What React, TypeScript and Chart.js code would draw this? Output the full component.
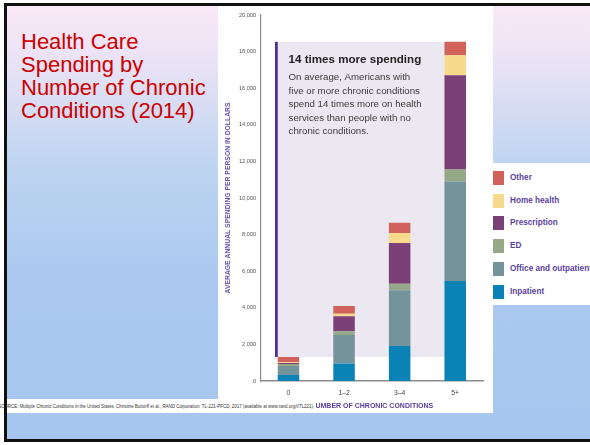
import React, { useEffect, useRef } from "react";
import { Chart, registerables } from "chart.js";

Chart.register(...registerables);

// Average annual spending per person (USD), by number of chronic conditions, 2014
const categories = ["0", "1–2", "3–4", "5+"];
const inpatient = [330, 960, 1910, 5470];
const officeOutpatient = [490, 1550, 3050, 5430];
const ed = [110, 210, 360, 650];
const prescription = [50, 820, 2220, 5160];
const homeHealth = [40, 130, 540, 1090];
const other = [290, 430, 570, 730];

// stacking order, bottom to top
const seriesNames = ["Inpatient", "Office and outpatient", "ED", "Prescription", "Home health", "Other"];
const seriesValues = [inpatient, officeOutpatient, ed, prescription, homeHealth, other];
const seriesColors = ["#0b82b5", "#75939b", "#95a887", "#7b4176", "#f8da8d", "#d0625b"];

const yMin = 0;
const yMax = 20000;
const yStep = 2000;

const calloutTitle = "14 times more spending";
const calloutLines = [
  "On average, Americans with",
  "five or more chronic conditions",
  "spend 14 times more on health",
  "services than people with no",
  "chronic conditions.",
];

const slideTitle = ["Health Care", "Spending by", "Number of Chronic", "Conditions (2014)"];
const sourceNote =
  "SOURCE: Multiple Chronic Conditions in the United States, Christine Buttorff et al., RAND Corporation, TL-221-PFCD, 2017 (available at www.rand.org/t/TL221).";

const SANS = '"Liberation Sans", Arial, Helvetica, sans-serif';
const PURPLE = "#5b3fa0";

// Shaded callout panel spanning from the "0" total up to the "5+" total
const calloutPlugin = {
  id: "callout",
  beforeDatasetsDraw(chart: any) {
    const { ctx } = chart;
    const yScale = chart.scales.y;
    const meta = chart.getDatasetMeta(0);
    const first = meta.data[0];
    const last = meta.data[meta.data.length - 1];
    const totals = categories.map((_, i) => seriesValues.reduce((s, v) => s + v[i], 0));
    const lineW = 2.7;
    const left = first.x - first.width / 2 - lineW;
    const right = last.x + last.width / 2;
    const top = yScale.getPixelForValue(totals[totals.length - 1]);
    const bottom = yScale.getPixelForValue(totals[0]);

    ctx.save();
    ctx.fillStyle = "#ece8f1";
    ctx.fillRect(left, top, right - left, bottom - top);
    ctx.fillStyle = "#4a2c96";
    ctx.fillRect(left, top, lineW, bottom - top);

    const tx = left + 13.5;
    ctx.textAlign = "left";
    ctx.textBaseline = "alphabetic";
    ctx.fillStyle = "#222";
    ctx.font = `bold 11.6px ${SANS}`;
    ctx.fillText(calloutTitle, tx, top + 21);
    ctx.fillStyle = "#3a3a3a";
    ctx.font = `9.7px ${SANS}`;
    calloutLines.forEach((line, i) => ctx.fillText(line, tx, top + 38.5 + i * 13.5));
    ctx.restore();
  },
};

export default function App() {
  const canvasRef = useRef<HTMLCanvasElement>(null);

  useEffect(() => {
    const chart = new Chart(canvasRef.current as HTMLCanvasElement, {
      type: "bar",
      data: {
        labels: categories,
        datasets: seriesNames.map((name, i) => ({
          label: name,
          data: seriesValues[i],
          backgroundColor: seriesColors[i],
          borderWidth: 0,
          categoryPercentage: 1,
          barPercentage: 0.387,
        })),
      },
      options: {
        animation: false,
        responsive: false,
        maintainAspectRatio: false,
        layout: { padding: { left: 0, right: 10, top: 7.7, bottom: 0 } },
        plugins: {
          legend: { display: false },
          tooltip: { enabled: false },
        },
        scales: {
          x: {
            stacked: true,
            grid: { display: false, drawTicks: false },
            border: { display: true, color: "#8c8c8c", width: 1.5 },
            ticks: { color: "#444", padding: 7.6, font: { family: SANS, size: 6.8 } },
            title: {
              display: true,
              text: "NUMBER OF CHRONIC CONDITIONS",
              color: PURPLE,
              font: { family: SANS, size: 7, weight: "bold" },
              padding: { top: 0, bottom: 2.8 },
            },
            afterFit: (s: any) => {
              s.height = 32;
            },
          },
          y: {
            stacked: true,
            min: yMin,
            max: yMax,
            grid: { display: false, drawTicks: false },
            border: { display: true, color: "#8c8c8c", width: 1.2 },
            ticks: {
              stepSize: yStep,
              color: "#555",
              padding: 4.6,
              font: { family: SANS, size: 5.6 },
              callback: (v: any) => Number(v).toLocaleString("en-US"),
            },
            title: {
              display: true,
              text: "AVERAGE ANNUAL SPENDING PER PERSON IN DOLLARS",
              color: "#6a52b2",
              font: { family: SANS, size: 6.8, weight: "bold" },
              padding: { top: 6, bottom: 0 },
            },
            afterFit: (s: any) => {
              s.width = 42.7;
            },
          },
        },
      },
      plugins: [calloutPlugin],
    } as any);
    return () => chart.destroy();
  }, []);

  const legendItems = seriesNames.map((n, i) => ({ name: n, color: seriesColors[i] })).reverse();

  return (
    <div
      style={{
        position: "fixed",
        left: 0,
        top: 0,
        width: 590,
        height: 445,
        overflow: "hidden",
        background: "#fff",
        fontFamily: SANS,
      }}
    >
      {/* slide background */}
      <div
        style={{
          position: "absolute",
          left: 7,
          top: 6,
          width: 640,
          height: 433,
          background:
            "linear-gradient(to bottom, #fbe9f7 0%, #e8e2f5 14%, #bfd5f1 36%, #abc9f0 62%, #a6c6ef 100%)",
        }}
      />
      {/* title */}
      <div
        style={{
          position: "absolute",
          left: 21,
          top: 30,
          width: 195,
          color: "#cc0000",
          fontSize: 22,
          lineHeight: "23px",
          whiteSpace: "nowrap",
        }}
      >
        {slideTitle.map((t) => (
          <div key={t}>{t}</div>
        ))}
      </div>
      {/* chart panel */}
      <div style={{ position: "absolute", left: 218, top: 6, width: 275, height: 407, background: "#fff" }} />
      <canvas
        ref={canvasRef}
        width={275}
        height={406}
        style={{ position: "absolute", left: 218, top: 7, width: 275, height: 406 }}
      />
      {/* legend panel */}
      <div style={{ position: "absolute", left: 490, top: 163, width: 120, height: 142, background: "#fff" }} />
      {legendItems.map((it, i) => (
        <div
          key={it.name}
          style={{ position: "absolute", left: 493, top: 170.7 + i * 22.86, height: 14, whiteSpace: "nowrap" }}
        >
          <div
            style={{ position: "absolute", left: 0, top: 0, width: 11.3, height: 14, background: it.color }}
          />
          <div
            style={{
              position: "absolute",
              left: 17,
              top: 0,
              lineHeight: "14px",
              fontSize: 8.2,
              fontWeight: "bold",
              color: PURPLE,
            }}
          >
            {it.name}
          </div>
        </div>
      ))}
      {/* source line */}
      <div style={{ position: "absolute", left: 7, top: 399, width: 212, height: 14, background: "#fff" }} />
      <div
        style={{
          position: "absolute",
          left: -1.8,
          top: 403,
          height: 8,
          lineHeight: "8px",
          paddingRight: 1.5,
          fontSize: 4.45,
          color: "#333",
          background: "#fff",
          whiteSpace: "nowrap",
        }}
      >
        {sourceNote}
      </div>
      {/* slide frame */}
      <div
        style={{
          position: "absolute",
          left: 4,
          top: 3,
          width: 700,
          height: 439,
          boxSizing: "border-box",
          border: "3px solid #111",
          pointerEvents: "none",
        }}
      />
    </div>
  );
}
